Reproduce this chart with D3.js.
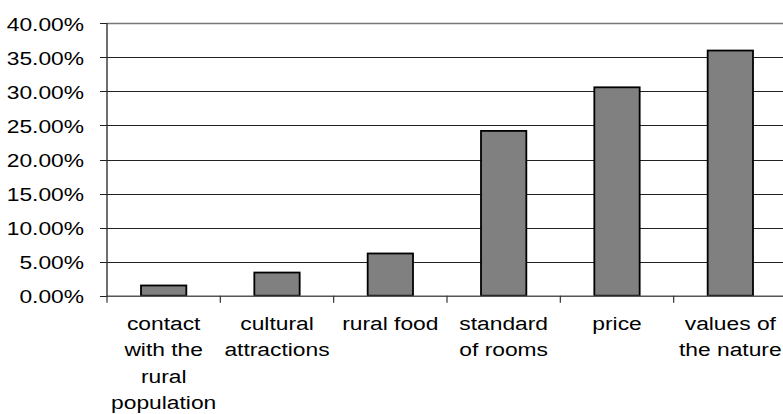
<!DOCTYPE html>
<html>
<head>
<meta charset="utf-8">
<script src="https://cdn.jsdelivr.net/npm/d3@7"></script>
<style>
  html, body { margin: 0; padding: 0; background: #fff; }
  svg { display: block; }
  text { font-family: "Liberation Sans", Arial, sans-serif; fill: #000; }
</style>
</head>
<body>
<svg id="chart" width="783" height="414"></svg>
<script>
// Share of respondents per factor (percent)
const categories = [
  "contact with the rural population",
  "cultural attractions",
  "rural food",
  "standard of rooms",
  "price",
  "values of the nature"
];
const categoryLines = [
  ["contact", "with the", "rural", "population"],
  ["cultural", "attractions"],
  ["rural food"],
  ["standard", "of rooms"],
  ["price"],
  ["values of", "the nature"]
];
const values = [1.5, 3.4, 6.2, 24.2, 30.6, 36.0];
const yTicks = [0, 5, 10, 15, 20, 25, 30, 35, 40];

(function draw() {
  const svg = d3.select("#chart");
  const plotLeft = 107, plotRight = 787, plotTop = 23.3, plotBottom = 295.7;
  const fontSize = 19, stretch = 1.2;

  const x = d3.scaleBand()
    .domain(categories)
    .range([plotLeft, plotRight])
    .paddingInner(0.6)
    .paddingOuter(0.3);

  const y = d3.scaleLinear().domain([0, 40]).range([plotBottom, plotTop]);

  // Horizontal gridlines
  svg.append("g")
    .selectAll("line")
    .data(yTicks.filter(d => d > 0))
    .join("line")
    .attr("x1", plotLeft).attr("x2", plotRight)
    .attr("y1", d => Math.round(y(d)) + 0.5)
    .attr("y2", d => Math.round(y(d)) + 0.5)
    .attr("stroke", d => d === 40 ? "#777" : "#222")
    .attr("stroke-width", d => d === 40 ? 1.6 : 1);

  // Y axis
  const yAxis = svg.append("g").attr("transform", `translate(${plotLeft},0)`);
  yAxis.append("line")
    .attr("x1", 0).attr("x2", 0)
    .attr("y1", y(40)).attr("y2", y(0) + 1)
    .attr("stroke", "#222").attr("stroke-width", 1.3);
  yAxis.selectAll("line.tick")
    .data(yTicks)
    .join("line")
    .attr("class", "tick")
    .attr("x1", -7).attr("x2", 0)
    .attr("y1", d => Math.round(y(d)) + 0.5)
    .attr("y2", d => Math.round(y(d)) + 0.5)
    .attr("stroke", "#222");
  yAxis.selectAll("text")
    .data(yTicks)
    .join("text")
    .attr("text-anchor", "end")
    .attr("font-size", fontSize)
    .attr("transform", d => `translate(-23,${y(d) + 7.2}) scale(${stretch},1)`)
    .text(d => d.toFixed(2) + "%");

  // Bars
  svg.append("g")
    .selectAll("rect")
    .data(values)
    .join("rect")
    .attr("x", (d, i) => x(categories[i]))
    .attr("width", x.bandwidth())
    .attr("y", d => y(d))
    .attr("height", d => y(0) - y(d))
    .attr("fill", "#808080")
    .attr("stroke", "#000")
    .attr("stroke-width", 1.8);

  // X axis with category separators
  const step = x.step();
  const xAxis = svg.append("g");
  xAxis.append("line")
    .attr("x1", plotLeft).attr("x2", plotRight)
    .attr("y1", plotBottom + 0.5).attr("y2", plotBottom + 0.5)
    .attr("stroke", "#555").attr("stroke-width", 1.6);
  xAxis.selectAll("line.tick")
    .data(d3.range(categories.length + 1))
    .join("line")
    .attr("class", "tick")
    .attr("x1", i => plotLeft + i * step).attr("x2", i => plotLeft + i * step)
    .attr("y1", plotBottom).attr("y2", plotBottom + 7)
    .attr("stroke", "#333").attr("stroke-width", 1.2);

  const labels = xAxis.selectAll("g.label")
    .data(categories)
    .join("g")
    .attr("class", "label")
    .attr("transform", d => `translate(${x(d) + x.bandwidth() / 2},0)`);
  labels.selectAll("text")
    .data((d, i) => categoryLines[i])
    .join("text")
    .attr("text-anchor", "middle")
    .attr("font-size", fontSize)
    .attr("transform", (t, j) => `translate(0,${330 + j * 26.3}) scale(${stretch},1)`)
    .text(t => t);
})();
</script>
</body>
</html>
